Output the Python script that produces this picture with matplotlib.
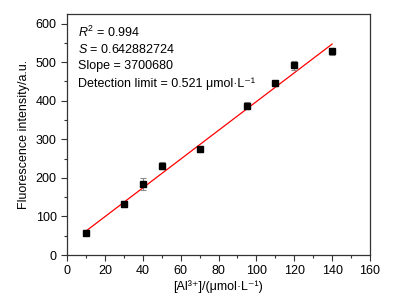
import matplotlib.pyplot as plt
from matplotlib.ticker import MultipleLocator

plt.rcParams["font.family"] = ["Liberation Sans", "DejaVu Sans"]
plt.rcParams["mathtext.fontset"] = "custom"
plt.rcParams["mathtext.rm"] = "Liberation Sans"
plt.rcParams["mathtext.it"] = "Liberation Sans:italic"

# measured points
conc = [10, 30, 40, 50, 70, 95, 110, 120, 140]
intensity = [58, 132, 184, 231, 275, 387, 445, 492, 528]
err = [6, 8, 15, 9, 8, 9, 7, 12, 10]

# fitted line endpoints
fit_x = [10, 140]
fit_y = [62, 547]

labels = [
    r"$R^2$ = 0.994",
    r"$S$ = 0.642882724",
    "Slope = 3700680",
    "Detection limit = 0.521 μmol·L⁻¹",
]

fig = plt.figure(figsize=(3.94, 3.0), dpi=100)
ax = fig.add_axes([67 / 394, 45 / 300, 303 / 394, 241 / 300])

ax.plot(fit_x, fit_y, color="red", lw=0.9, zorder=2)
ax.errorbar(conc, intensity, yerr=err, fmt="s", color="black", ms=5,
            ecolor="#8a8a8a", elinewidth=0.8, capsize=2.2, capthick=0.8, zorder=3)

ax.set_xlim(0, 160)
ax.set_ylim(0, 625)
ax.xaxis.set_major_locator(MultipleLocator(20))
ax.xaxis.set_minor_locator(MultipleLocator(10))
ax.yaxis.set_major_locator(MultipleLocator(100))
ax.yaxis.set_minor_locator(MultipleLocator(50))
ax.tick_params(which="both", direction="out", labelsize=9, width=0.8,
               top=False, right=False, colors="#333333", labelcolor="black")
ax.tick_params(which="major", length=4)
ax.tick_params(which="minor", length=2)
for s in ax.spines.values():
    s.set_linewidth(0.9)
    s.set_color("#333333")

ax.set_xlabel("[Al³⁺]/(μmol·L⁻¹)", fontsize=9, labelpad=2)
ax.set_ylabel("Fluorescence intensity/a.u.", fontsize=9, labelpad=4)

for i, t in enumerate(labels):
    ax.text(0.035, 0.925 - i * 0.071, t, transform=ax.transAxes, fontsize=9,
            va="center", ha="left")

fig.savefig("out.png", dpi=100)
